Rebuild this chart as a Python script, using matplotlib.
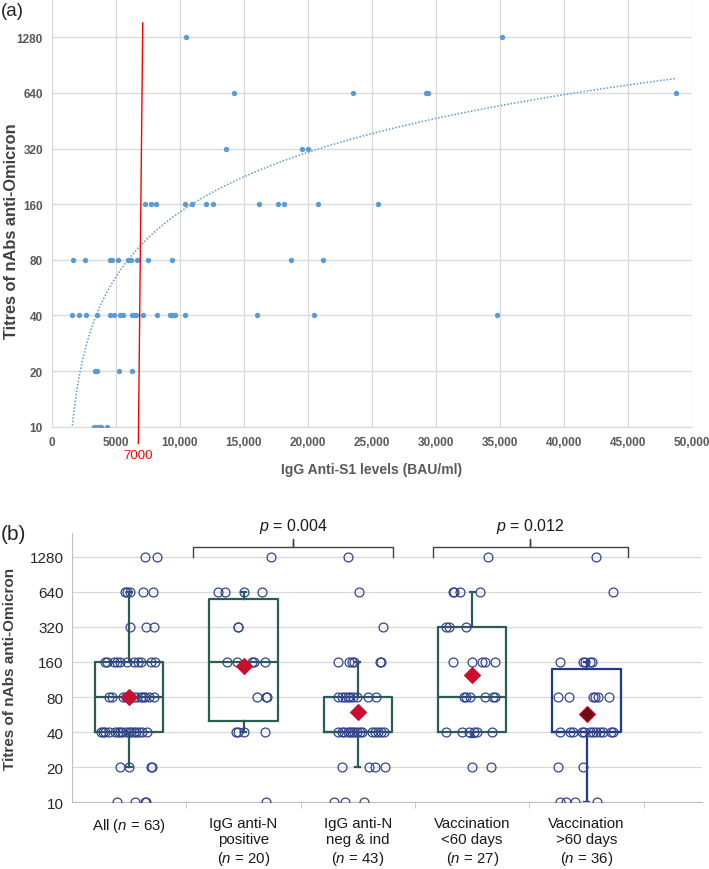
import numpy as np
import matplotlib
matplotlib.use("Agg")
import matplotlib.pyplot as plt

plt.rcParams['font.family'] = ['Liberation Sans', 'DejaVu Sans']
plt.rcParams['mathtext.fontset'] = 'custom'
plt.rcParams['mathtext.rm'] = 'Liberation Sans'
plt.rcParams['mathtext.it'] = 'Liberation Sans:italic'

# ---- data: panel (a), IgG anti-S1 vs titre ----
s1_10 = [3310, 3490, 3670, 3850, 4300]
s1_20 = [3390, 3540, 5260, 6220]
s1_40 = [1590, 2080, 2660, 3540, 4530, 4870, 5310, 5570, 6220, 6410, 6540,
         7140, 8230, 9220, 9400, 9580, 10420, 15990, 20440, 34770]
s1_80 = [1670, 2600, 4560, 4690, 5130, 5910, 6170, 6620, 7530, 9400, 18700, 21200]
s1_160 = [7240, 7710, 8130, 10420, 10910, 12010, 12580, 16150, 17680, 18150, 20780, 25430]
s1_320 = [13570, 19560, 19970]
s1_640 = [14220, 23490, 29200, 29400, 48780]
s1_1280 = [10440, 35130]

cutoff_label = "7000"
cutoff_x = [7090, 6745]      # drawn line is slightly slanted in the source
cutoff_y = [1530, 8.1]

titre_ticks = [10, 20, 40, 80, 160, 320, 640, 1280]
s1_ticks = [0, 5000, 10000, 15000, 20000, 25000, 30000, 35000, 40000, 45000, 50000]
s1_ticklabels = ["0", "5000", "10,000", "15,000", "20,000", "25,000", "30,000",
                 "35,000", "40,000", "45,000", "50,000"]

# ---- data: panel (b), box plots ----
groups = ["All ($n$ = 63)", "IgG anti-N\npositive\n($n$ = 20)",
          "IgG anti-N\nneg & ind\n($n$ = 43)", "Vaccination\n<60 days\n($n$ = 27)",
          "Vaccination\n>60 days\n($n$ = 36)"]
box_q1 = [40, 50, 40, 40, 40]
box_med = [80, 160, 40, 80, 40]
box_q3 = [160, 554, 80, 320, 139]
box_lo = [20, 40, 20, 36.4, 10]
box_hi = [640, 640, 160, 640, 160]
box_mean = [80, 148, 59.5, 124, 57.6]

# individual titres and their horizontal jitter
all_y = [1280]*2 + [640]*5 + [320]*3 + [160]*11 + [80]*11 + [40]*16 + [20]*4 + [10]*4
all_dx = [0.14, 0.24,
          -0.04, -0.02, 0.01, 0.12, 0.21,
          0.01, 0.15, 0.22,
          -0.21, -0.19, -0.13, -0.11, -0.08, -0.02, 0.04, 0.08, 0.10, 0.19, 0.23,
          -0.18, -0.15, -0.05, -0.03, 0.04, 0.07, 0.10, 0.12, 0.14, 0.17, 0.22,
          -0.25, -0.23, -0.21, -0.18, -0.12, -0.10, -0.08, -0.06, -0.03, 0.0, 0.02,
          0.04, 0.06, 0.09, 0.11, 0.16,
          -0.08, 0.0, 0.19, 0.20,
          -0.11, 0.05, 0.14, 0.15]
pos_y = [1280] + [640]*4 + [320]*2 + [160]*5 + [80]*3 + [40]*4 + [10]
pos_dx = [0.24,
          -0.22, -0.16, 0.0, 0.16,
          -0.05, -0.045,
          -0.14, -0.06, 0.07, 0.09, 0.19,
          0.12, 0.195, 0.205,
          -0.07, -0.05, 0.0, 0.19,
          0.20]
neg_y = [1280, 640, 320] + [160]*6 + [80]*9 + [40]*15 + [20]*4 + [10]*3
neg_dx = [-0.085, 0.01, 0.22,
          -0.17, -0.08, -0.055, -0.03, 0.19, 0.20,
          -0.17, -0.14, -0.11, -0.085, -0.065, -0.04, -0.01, 0.085, 0.16,
          -0.17, -0.14, -0.12, -0.09, -0.07, -0.05, -0.03, -0.005, 0.02, 0.04,
          0.12, 0.15, 0.18, 0.20, 0.23,
          -0.14, 0.10, 0.15, 0.24,
          -0.21, -0.11, 0.055]
v60_y = [1280] + [640]*4 + [320]*3 + [160]*5 + [80]*6 + [40]*6 + [20]*2
v60_dx = [0.14,
          -0.17, -0.155, -0.105, 0.065,
          -0.23, -0.20, -0.05,
          -0.17, 0.0, 0.09, 0.115, 0.20,
          -0.075, -0.055, -0.015, 0.115, 0.18, 0.20,
          -0.23, -0.085, -0.03, 0.02, 0.04, 0.17,
          0.0, 0.165]
old_y = [1280, 640] + [160]*5 + [80]*6 + [40]*12 + [20]*2 + [10]*4
old_dx = [0.085, 0.23,
          -0.235, -0.03, -0.01, 0.03, 0.05,
          -0.25, -0.155, 0.055, 0.075, 0.10, 0.20,
          -0.235, -0.145, -0.12, -0.04, -0.02, 0.03, 0.06, 0.08, 0.12, 0.14, 0.215, 0.235,
          -0.25, -0.035,
          -0.235, -0.18, -0.10, 0.095]

p_labels = ["0.004", "0.012"]
p_spans = [(1.56, 3.31), (3.66, 5.36)]

# ---- figure ----
W, H = 709, 870
fig = plt.figure(figsize=(W / 100, H / 100), dpi=100)

grid_c = "#d9d9d9"
blue = "#5b9bd5"

# Panel (a)
ax = fig.add_axes([52 / W, 442.3 / H, 640 / W, 427.1 / H])
ax.set_yscale("log", base=2)
ax.set_ylim(10, 2048)
ax.set_xlim(0, 50000)

xs = s1_10 + s1_20 + s1_40 + s1_80 + s1_160 + s1_320 + s1_640 + s1_1280
ys = ([10]*len(s1_10) + [20]*len(s1_20) + [40]*len(s1_40) + [80]*len(s1_80)
      + [160]*len(s1_160) + [320]*len(s1_320) + [640]*len(s1_640) + [1280]*len(s1_1280))
ax.scatter(xs, ys, s=15, color=blue, zorder=3, linewidths=0)

# linear trendline (as Excel draws it), shown on the log axis
coef = np.polyfit(xs, ys, 1)
tx = np.linspace(min(xs), max(xs), 300)
ax.plot(tx, np.polyval(coef, tx), linestyle=(0, (1, 1.2)), color=blue, lw=1.1, zorder=2)

ax.plot(cutoff_x, cutoff_y, color="#ff0000", lw=1.0, clip_on=False, zorder=4)
ax.text(cutoff_x[1], -0.066, cutoff_label, transform=ax.get_xaxis_transform(),
        ha="center", va="center", color="#ff0000", fontsize=9.5)

ax.set_yticks(titre_ticks)
ax.set_yticklabels([str(t) for t in titre_ticks])
ax.yaxis.set_minor_locator(matplotlib.ticker.NullLocator())
ax.set_xticks(s1_ticks)
ax.set_xticklabels(s1_ticklabels)
ax.tick_params(length=0, labelsize=8.5, labelcolor="#595959", pad=6.5)
for lab in ax.get_xticklabels() + ax.get_yticklabels():
    lab.set_fontweight("bold")
ax.grid(True, color=grid_c, lw=0.9)
ax.set_axisbelow(True)
for s in ["top", "right"]:
    ax.spines[s].set_visible(False)
for s in ["left", "bottom"]:
    ax.spines[s].set_color(grid_c)

ax.set_xlabel("IgG Anti-S1 levels (BAU/ml)", fontsize=10, fontweight="bold", color="#595959")
ax.xaxis.set_label_coords(0.5, -0.083)
ax.set_ylabel("Titres of nAbs anti-Omicron", fontsize=11.8, fontweight="bold",
              color="#404040", va="center")
ax.yaxis.set_label_coords(-0.064, 0.46)
fig.text(1 / W, 1 - 11 / H, "(a)", fontsize=13.5, va="center", ha="left", color="#262626")

# Panel (b)
bx = fig.add_axes([72 / W, 66.7 / H, 630 / W, 269.4 / H])
bx.set_yscale("log", base=2)
bx.set_ylim(10, 2048)
bx.set_xlim(0.5, 6.01)
positions = np.arange(1, len(groups) + 1)

stats = []
for i in range(len(groups)):
    stats.append(dict(med=box_med[i], q1=box_q1[i], q3=box_q3[i],
                      whislo=box_lo[i], whishi=box_hi[i], mean=box_mean[i], fliers=[]))
green = "#2b5d52"
navy = "#1f3b8a"
box_cols = [green, green, green, green, navy]
art = bx.bxp(stats, positions=positions, widths=0.6, showmeans=False,
             showfliers=False, capwidths=0.045)
for i, c in enumerate(box_cols):
    art["boxes"][i].set(color=c, lw=1.6)
    art["medians"][i].set(color=c, lw=1.6)
    for w in art["whiskers"][2*i:2*i+2]:
        w.set(color=c, lw=1.6)
    for cp in art["caps"][2*i:2*i+2]:
        cp.set(color=c, lw=1.6)
for a in art["boxes"] + art["medians"] + art["whiskers"] + art["caps"]:
    a.set_zorder(2)

circ_c = "#33448f"
point_sets = [(all_y, all_dx), (pos_y, pos_dx), (neg_y, neg_dx), (v60_y, v60_dx), (old_y, old_dx)]
for pos, (yy, dx) in zip(positions, point_sets):
    bx.plot(pos + np.array(dx), yy, "o", ms=6.4, mfc="none", mec=circ_c, mew=0.9, zorder=3)

mean_face = ["#c8102e"] * 4 + ["#6e0a16"]
for pos, m, fc in zip(positions, box_mean, mean_face):
    bx.plot(pos, m, "D", ms=8.5, mfc=fc, mec="#c8102e", mew=0.8, zorder=4)

bx.set_yticks(titre_ticks)
bx.set_yticklabels([str(t) for t in titre_ticks])
bx.yaxis.set_minor_locator(matplotlib.ticker.NullLocator())
bx.tick_params(axis="y", length=0, labelsize=11, labelcolor="#262626", pad=6)
bx.set_xticks(positions)
bx.set_xticklabels(groups)
bx.tick_params(axis="x", length=0, labelsize=10.8, labelcolor="#1a1a1a", pad=10)
bx.set_xticks(np.arange(1.5, 6, 1), minor=True)
bx.tick_params(axis="x", which="minor", length=4, color="#bfbfbf")
bx.grid(True, axis="y", color=grid_c, lw=0.9)
bx.set_axisbelow(True)
for s in ["top", "right"]:
    bx.spines[s].set_visible(False)
for s in ["left", "bottom"]:
    bx.spines[s].set_color("#bfbfbf")

bx.set_ylabel("Titres of nAbs anti-Omicron", fontsize=11, fontweight="bold", color="#404040",
              va="center")
bx.yaxis.set_label_coords(-0.098, 0.5)

# significance brackets
for (x0, x1), p in zip(p_spans, p_labels):
    xm = (x0 + x1) / 2
    bx.plot([x0, x0, xm, xm, xm, x1, x1], [1280, 1541, 1541, 1815, 1541, 1541, 1280],
            color="#404040", lw=1.0, clip_on=False)
    bx.text(xm, 2350, "$p$ = " + p, ha="center", va="center", fontsize=11.5,
            color="#1a1a1a", clip_on=False)

fig.text(1 / W, 1 - 534 / H, "(b)", fontsize=15, va="center", ha="left", color="#262626")

fig.savefig("out.png", dpi=100)
